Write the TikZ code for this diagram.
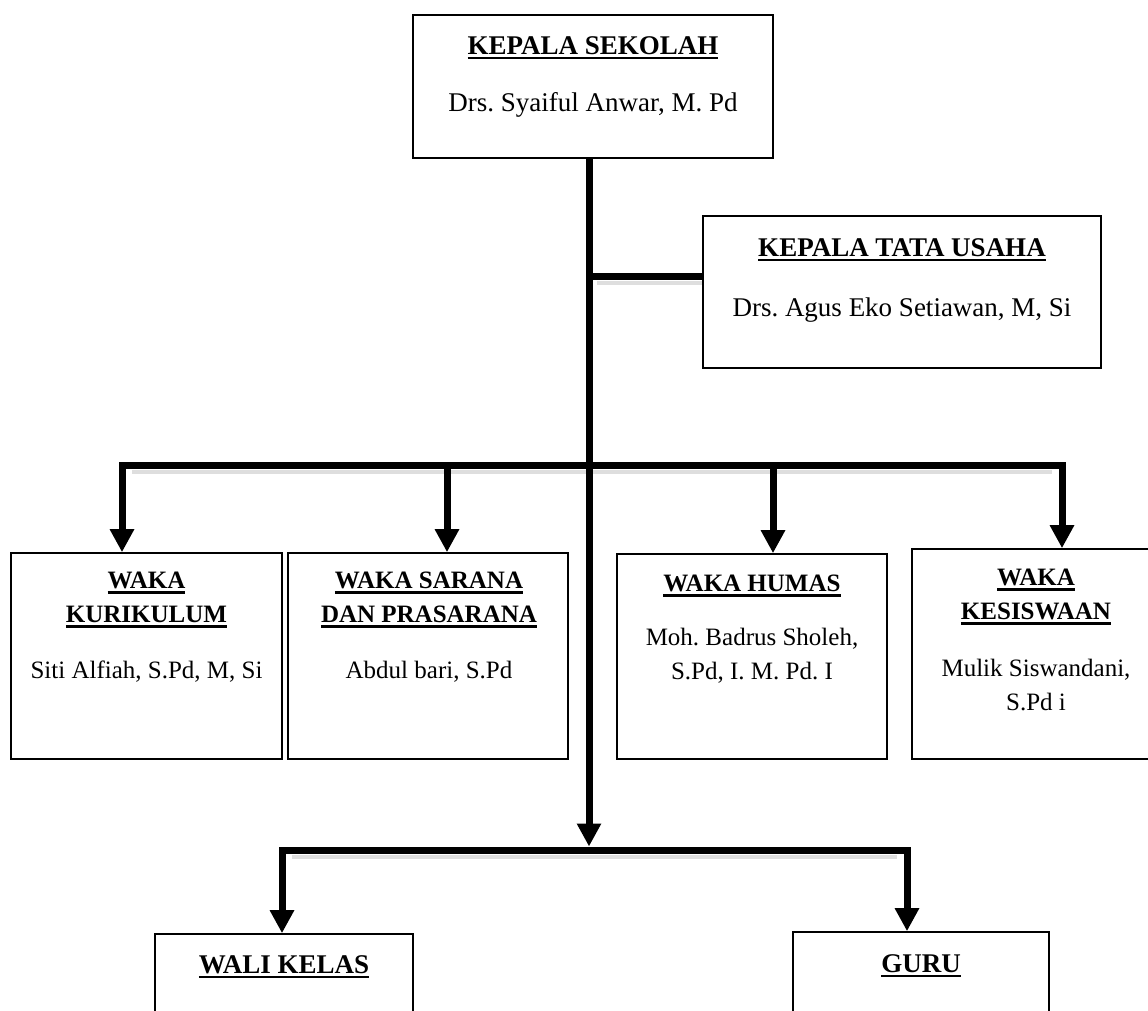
\documentclass[tikz,border=0pt]{standalone}
\usepackage{fontspec}
\setmainfont{Liberation Serif}
\usetikzlibrary{arrows.meta,positioning}
\frenchspacing
\newcommand{\judul}[1]{\setbox0=\hbox{\bfseries #1}\rlap{\rule[-5pt]{\wd0}{2.6pt}}\box0}

\begin{document}
\begin{tikzpicture}[x=1pt,y=-1pt,
    jabatan/.style={draw, line width=1.6pt, inner sep=0pt},
    teks/.style={align=center, inner sep=0pt, font=\fontsize{27}{33}\selectfont},
    tekskecil/.style={align=center, inner sep=0pt, font=\fontsize{25}{34}\selectfont},
    garis/.style={line width=7pt},
    bayangan/.style={draw=black!13, line width=4pt},
    panah/.style={line width=7pt, -{Triangle[width=23pt,length=23pt]}},
    duapanah/.style={line width=7pt, {Triangle[width=23pt,length=23pt]}-{Triangle[width=23pt,length=23pt]}}]
  \useasboundingbox (0,0) rectangle (1148,1010);
  % kepala sekolah
  \node[jabatan, minimum width=360pt, minimum height=143pt] (kepsek) at (593,86.5) {};
  \node[teks] (kepsek-j) at (593,48) {\judul{KEPALA SEKOLAH}};
  \node[teks] (kepsek-n) at (593,105) {Drs. Syaiful Anwar, M. Pd};
  % tata usaha
  \node[jabatan, minimum width=398pt, minimum height=152pt] (tu) at (902,292) {};
  \node[teks] (tu-j) at (902,250) {\judul{KEPALA TATA USAHA}};
  \node[teks] (tu-n) at (902,310) {Drs. Agus Eko Setiawan, M, Si};
  % wakil kepala
  \node[jabatan, minimum width=271pt, minimum height=206pt] (kurikulum) at (146.5,656) {};
  \node[tekskecil] (kurikulum-j) at (146.5,600) {\judul{WAKA}\\\judul{KURIKULUM}};
  \node[tekskecil] (kurikulum-n) at (146.5,672) {Siti Alfiah, S.Pd, M, Si};
  \node[jabatan, minimum width=280pt, minimum height=206pt] (sarpras) at (428,656) {};
  \node[tekskecil] (sarpras-j) at (429,600) {\judul{WAKA SARANA}\\\judul{DAN PRASARANA}};
  \node[tekskecil] (sarpras-n) at (429,672) {Abdul bari, S.Pd};
  \node[jabatan, minimum width=270pt, minimum height=205pt] (humas) at (752,656.5) {};
  \node[tekskecil] (humas-j) at (752,586) {\judul{WAKA HUMAS}};
  \node[tekskecil] (humas-n) at (752,655.5) {Moh. Badrus Sholeh,\\S.Pd, I. M. Pd. I};
  \node[jabatan, minimum width=242pt, minimum height=210pt] (kesiswaan) at (1033,654) {};
  \node[tekskecil] (kesiswaan-j) at (1036,597) {\judul{WAKA}\\\judul{KESISWAAN}};
  \node[tekskecil] (kesiswaan-n) at (1036,685) {Mulik Siswandani,\\S.Pd i};
  % wali kelas dan guru
  \node[jabatan, minimum width=258pt, minimum height=136pt] (walikelas) at (284,1002) {};
  \node[teks] (walikelas-j) at (284,967) {\judul{WALI KELAS}};
  \node[jabatan, minimum width=256pt, minimum height=138pt] (guru) at (921,1001) {};
  \node[teks] (guru-j) at (921,966) {\judul{GURU}};
  % garis komando
  \coordinate (cabangtu) at (589,276);
  \coordinate (simpul) at (589,465);
  \coordinate (bawah) at (589,850);
  \coordinate (ki) at (122,465);
  \coordinate (ka) at (1062,465);
  \coordinate (tengah1) at (447,465);
  \coordinate (tengah2) at (773,465);
  \coordinate (wk) at (282,850);
  \coordinate (gr) at (907,850);
  % bayangan tipis di bawah garis mendatar
  \draw[bayangan] ([shift={(10pt,-7pt)}]ki) -- ([shift={(-10pt,-7pt)}]ka);
  \draw[bayangan] ([shift={(8pt,-7pt)}]cabangtu) -- ([yshift=-7pt]cabangtu -| tu.west);
  \draw[bayangan] ([shift={(10pt,-7pt)}]wk) -- ([shift={(-10pt,-7pt)}]gr);
  \draw[panah] (simpul |- kepsek.south) -- ([yshift=3.5pt]bawah);
  \draw[garis] (cabangtu) -- (cabangtu -| tu.west);
  \draw[duapanah] (ki |- kurikulum.north) -- (ki) -- (ka) -- (ka |- kesiswaan.north);
  \draw[panah] (tengah1) -- (tengah1 |- sarpras.north);
  \draw[panah] (tengah2) -- (tengah2 |- humas.north);
  \draw[duapanah] (wk |- walikelas.north) -- (wk) -- (gr) -- (gr |- guru.north);
\end{tikzpicture}
\end{document}
